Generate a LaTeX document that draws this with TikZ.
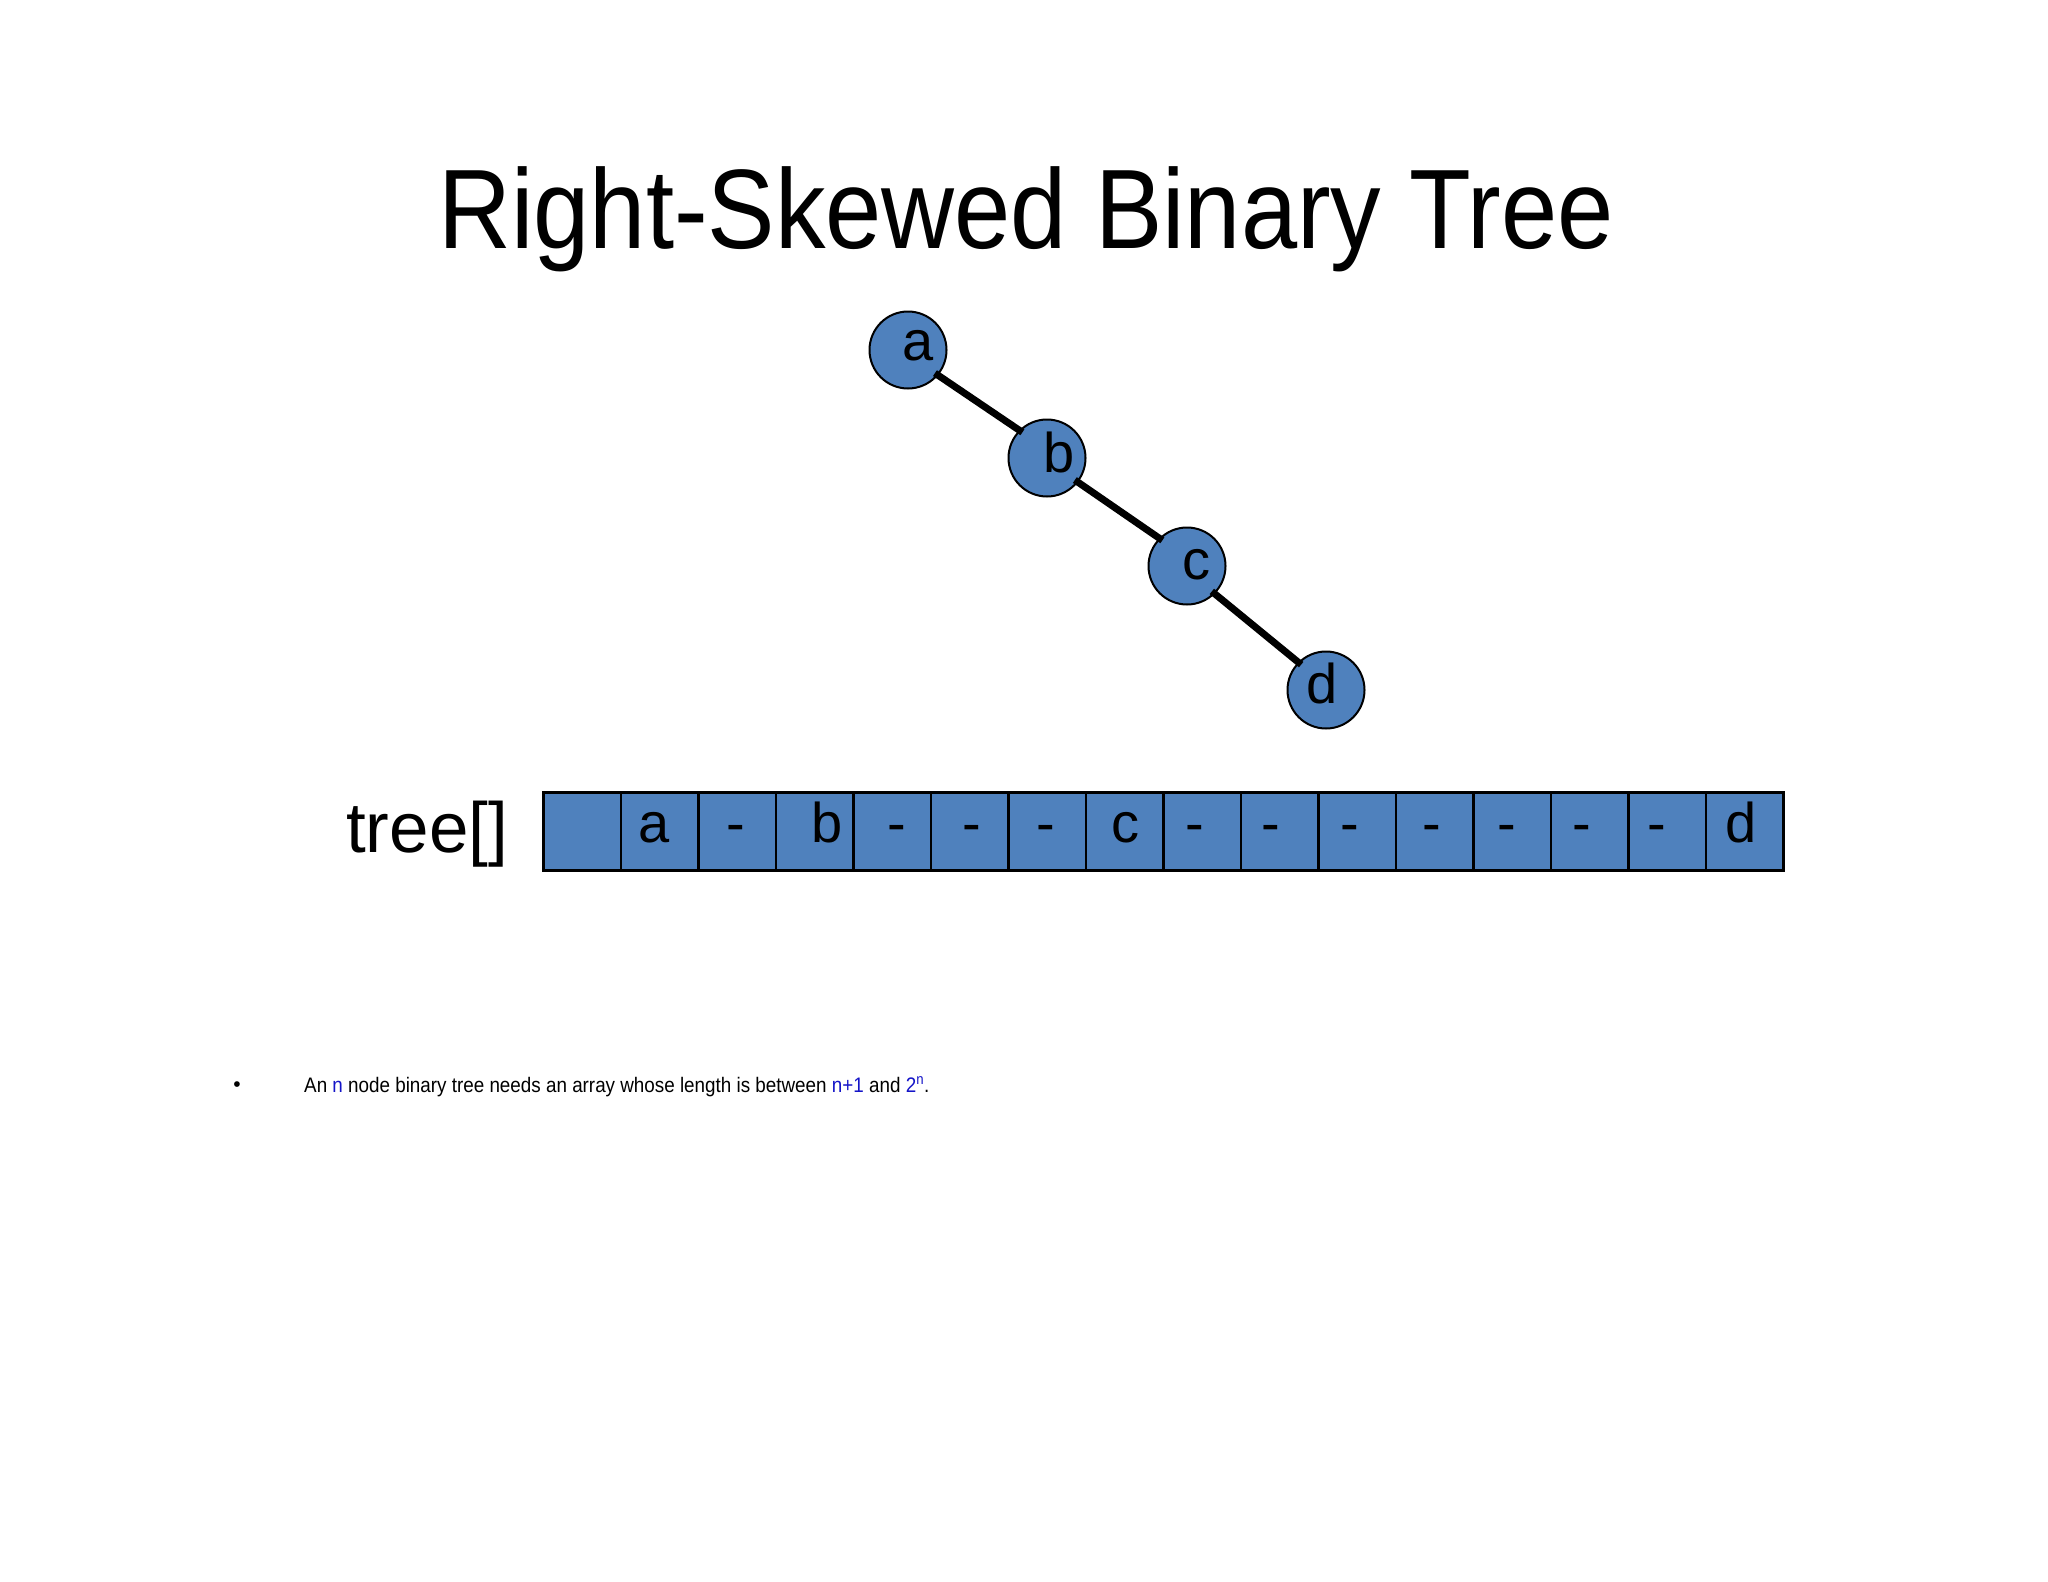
\documentclass[tikz,border=0pt]{standalone}
\usepackage{fontspec}
\setmainfont{Liberation Sans}
\definecolor{nodeblue}{RGB}{79,129,189}
\definecolor{textblue}{RGB}{20,20,200}
\begin{document}
\begin{tikzpicture}[x=1pt,y=-1pt,
  tnode/.style={circle,draw=black,line width=2pt,fill=nodeblue,minimum size=77pt,inner sep=0pt},
  tlabel/.style={anchor=base,inner sep=0pt,font=\fontsize{56}{60}\selectfont},
  arrcell/.style={draw=black,line width=2.5pt,fill=nodeblue,minimum width=77.5pt,minimum height=78pt,inner sep=0pt,anchor=north west},
  treeedge/.style={line width=7pt,shorten <=-4pt,shorten >=-4pt}]
\useasboundingbox[fill=white] (0,0) rectangle (2048,1582);
% title
\node[anchor=base,inner sep=0pt,font=\fontsize{113}{120}\selectfont] (title) at (1026,248) {\scalebox{0.894}[1]{Right-Skewed Binary Tree}};
% tree
\node[tnode] (a) at (908,350) {};
\node[tnode] (b) at (1047,458) {};
\node[tnode] (c) at (1187,566) {};
\node[tnode] (d) at (1326,690) {};
\node[tlabel] (la) at (918,360) {a};
\node[tlabel] (lb) at (1059,472) {b};
\node[tlabel] (lc) at (1196,579) {c};
\node[tlabel] (ld) at (1322,703) {d};
\draw[treeedge] (a.-40) -- (b.135);
\draw[treeedge] (b.-38) -- (c.135);
\draw[treeedge] (c.-45) -- (d.135);
% array
\node[anchor=base west,inner sep=0pt,font=\fontsize{71}{76}\selectfont] (arrname) at (346,852) {tree[]};
\foreach \i in {0,...,15} \node[arrcell] (cell\i) at ({542+77.5*\i},791) {};
\foreach \x/\t/\n in {654/a/1,736/-/2,827/b/3,897/-/4,972/-/5,1046/-/6,1125/c/7,1195/-/8,1271/-/9,1350/-/10,1432/-/11,1507/-/12,1582/-/13,1657/-/14,1741/d/15}
  \node[tlabel] (val\n) at (\x,842) {\t};
% bullet
\node[anchor=base,inner sep=0pt,font=\fontsize{21}{24}\selectfont] (bul) at (237,1091) {•};
\node[anchor=base west,inner sep=0pt,font=\fontsize{21}{24}\selectfont] (txt) at (304,1092) {\scalebox{0.897}[1]{An \textcolor{textblue}{n} node binary tree needs an array whose length is between \textcolor{textblue}{n+1} and \textcolor{textblue}{2\textsuperscript{n}}.}};
\end{tikzpicture}
\end{document}
